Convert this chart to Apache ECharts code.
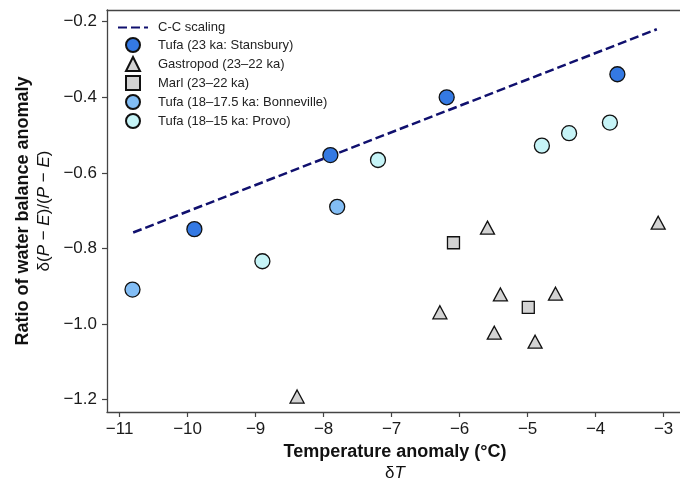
<!DOCTYPE html>
<html>
<head>
<meta charset="utf-8">
<script src="https://cdn.jsdelivr.net/npm/echarts@6/dist/echarts.min.js"></script>
<style>
  html, body { margin: 0; padding: 0; background: #fff; }
  #chart { width: 680px; height: 478px; }
</style>
</head>
<body>
<div id="chart"></div>
<script>
// reference line (C-C scaling) endpoints
const ccLine = [[-10.8, -0.758], [-3.1, -0.22]];

const stansbury = [[-9.9, -0.749], [-7.9, -0.553], [-6.19, -0.40], [-3.68, -0.339]];
const gastropod = [[-8.39, -1.192], [-6.29, -0.969], [-5.59, -0.745], [-5.40, -0.922],
                   [-5.49, -1.023], [-4.89, -1.047], [-4.59, -0.920], [-3.08, -0.732]];
const marl = [[-6.09, -0.785], [-4.99, -0.956]];
const bonneville = [[-10.81, -0.909], [-7.80, -0.690]];
const provo = [[-8.90, -0.834], [-7.20, -0.566], [-4.79, -0.528], [-4.39, -0.495], [-3.79, -0.467]];

const xTicks = [-11, -10, -9, -8, -7, -6, -5, -4, -3];
const yTicks = [-1.2, -1.0, -0.8, -0.6, -0.4, -0.2];

const FONT = 'Liberation Sans, Arial, sans-serif';
const minus = s => String(s).replace('-', '\u2212');

const TRI = 'path://M0,0L1,2L-1,2Z';
const SQ = 'path://M0,0L2,0L2,2L0,2Z';

const chart = echarts.init(document.getElementById('chart'), null, { renderer: 'canvas' });

const ptBorder = { borderColor: '#111', borderWidth: 1.3 };
const titleRich = {
  b: { fontFamily: FONT, fontSize: 18, fontWeight: 'bold', color: '#111', lineHeight: 21 },
  n: { fontFamily: FONT, fontSize: 17, color: '#111', lineHeight: 21 },
  i: { fontFamily: FONT, fontSize: 17, fontStyle: 'italic', color: '#111', lineHeight: 21 }
};
const spine = { color: '#444', width: 1.3 };

chart.setOption({
  animation: false,
  backgroundColor: '#fff',
  textStyle: { fontFamily: FONT },
  grid: {
    left: 107, top: 10, right: -3, bottom: 66,
    outerBoundsMode: 'none'
  },
  legend: {
    orient: 'vertical',
    left: 117, top: 21, padding: 0,
    itemWidth: 30, itemHeight: 14, itemGap: 3,
    textStyle: { fontFamily: FONT, fontSize: 13, color: '#222', padding: [0, 0, 0, 5] },
    data: [
      { name: 'C-C scaling', itemStyle: { color: 'rgba(0,0,0,0)', borderWidth: 0, opacity: 0 } },
      'Tufa (23 ka: Stansbury)',
      { name: 'Gastropod (23–22 ka)', icon: TRI },
      { name: 'Marl (23–22 ka)', icon: SQ },
      'Tufa (18–17.5 ka: Bonneville)', 'Tufa (18–15 ka: Provo)'
    ]
  },
  xAxis: [
    {
      type: 'value',
      min: -11.185, max: -2.715,
      name: '{b|Temperature anomaly (°C)}\n{n|δ}{i|T}',
      nameLocation: 'middle', nameGap: 30,
      nameTextStyle: { rich: titleRich },
      splitLine: { show: false },
      axisLine: { show: true, onZero: false, lineStyle: spine },
      axisTick: { show: true, customValues: xTicks, length: 5, lineStyle: { color: '#444', width: 1.2 } },
      axisLabel: { customValues: xTicks, margin: 9, fontSize: 17, color: '#1a1a1a', fontFamily: FONT,
                   formatter: v => minus(Math.round(v)) }
    },
    {
      // top spine only
      type: 'value', position: 'top',
      min: -11.185, max: -2.715,
      splitLine: { show: false },
      axisLine: { show: true, onZero: false, lineStyle: spine },
      axisTick: { show: false },
      axisLabel: { show: false }
    }
  ],
  yAxis: {
    type: 'value',
    min: -1.233, max: -0.169,
    name: '{b|Ratio of water balance anomaly}\n{n|δ(}{i|P}{n| − }{i|E}{n|)/(}{i|P}{n| − }{i|E}{n|)}',
    nameLocation: 'middle', nameGap: 51, nameRotate: 90,
    nameTextStyle: { rich: titleRich },
    splitLine: { show: false },
    axisLine: { show: true, onZero: false, lineStyle: spine },
    axisTick: { show: true, customValues: yTicks, length: 5, lineStyle: { color: '#444', width: 1.2 } },
    axisLabel: { customValues: yTicks, margin: 10, fontSize: 17, color: '#1a1a1a', fontFamily: FONT,
                 formatter: v => minus(v.toFixed(1)) }
  },
  series: [
    {
      name: 'C-C scaling', type: 'line', data: ccLine, symbol: 'none',
      lineStyle: { color: '#10106e', width: 2.5, type: [9, 4] },
      itemStyle: { color: '#10106e' }, z: 1
    },
    {
      name: 'Tufa (23 ka: Stansbury)', type: 'scatter', data: stansbury,
      symbol: 'circle', symbolSize: 15,
      itemStyle: Object.assign({ color: '#3479e3', opacity: 1 }, ptBorder), z: 3
    },
    {
      name: 'Gastropod (23–22 ka)', type: 'scatter', data: gastropod,
      symbol: 'triangle', symbolSize: [14, 13],
      itemStyle: Object.assign({ color: '#d3d3d3', opacity: 1 }, ptBorder), z: 3
    },
    {
      name: 'Marl (23–22 ka)', type: 'scatter', data: marl,
      symbol: 'rect', symbolSize: 12,
      itemStyle: Object.assign({ color: '#d3d3d3', opacity: 1 }, ptBorder), z: 3
    },
    {
      name: 'Tufa (18–17.5 ka: Bonneville)', type: 'scatter', data: bonneville,
      symbol: 'circle', symbolSize: 15,
      itemStyle: Object.assign({ color: '#82bdf5', opacity: 1 }, ptBorder), z: 3
    },
    {
      name: 'Tufa (18–15 ka: Provo)', type: 'scatter', data: provo,
      symbol: 'circle', symbolSize: 15,
      itemStyle: Object.assign({ color: '#c6f4f7', opacity: 1 }, ptBorder), z: 3
    }
  ]
});
</script>
</body>
</html>
